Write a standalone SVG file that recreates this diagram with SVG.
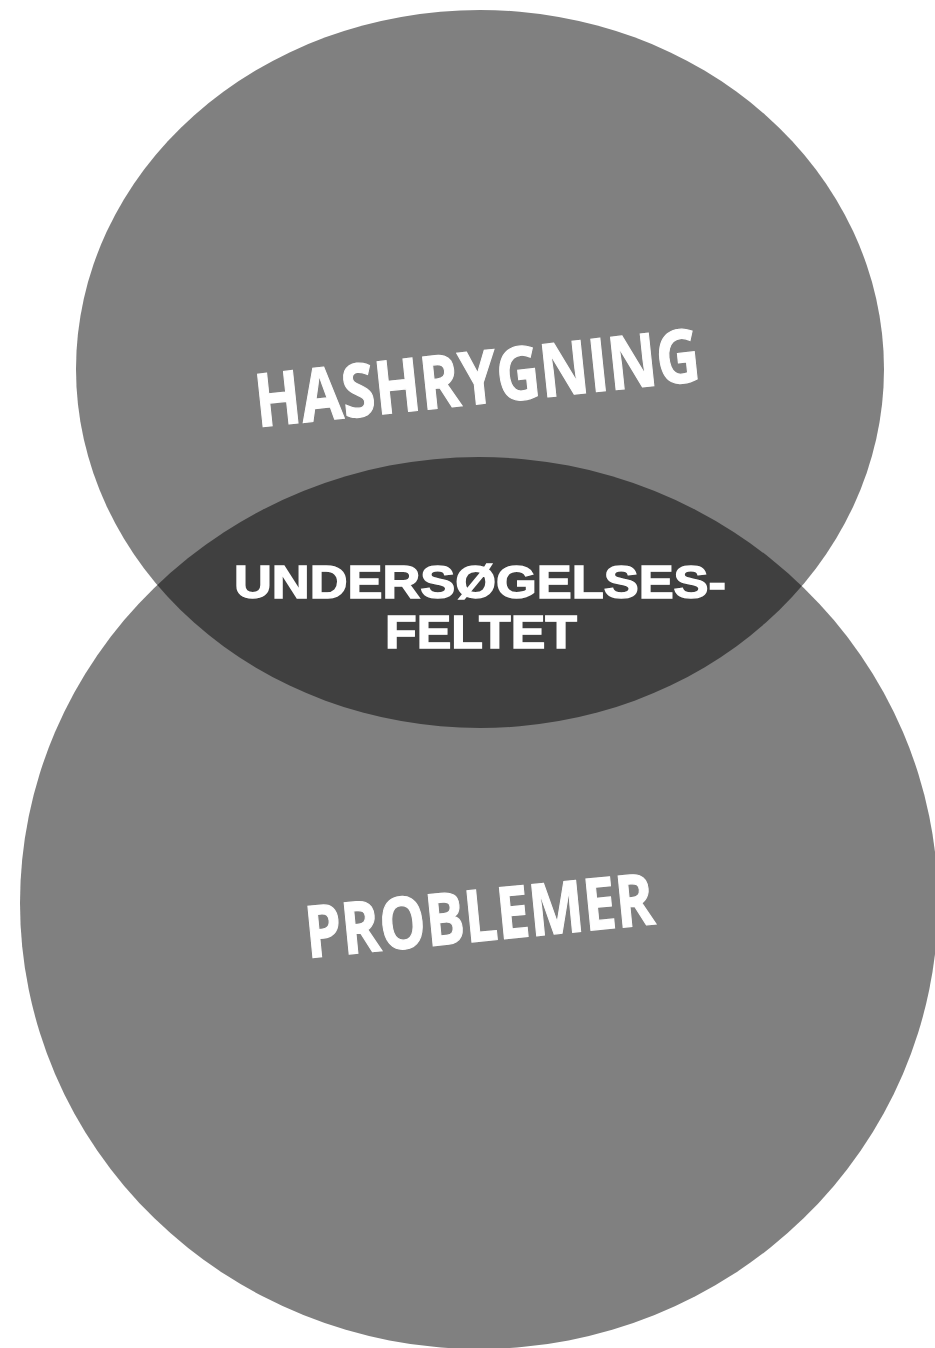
<svg xmlns="http://www.w3.org/2000/svg" width="935" height="1348" viewBox="0 0 935 1348">
  <style>
    .set { fill: #808080; }
    .overlap { fill: #404040; }
    .label { fill: #ffffff; stroke: #ffffff; stroke-width: 1.2; font-family: "Open Sans", "Liberation Sans", sans-serif; font-weight: 700; text-anchor: middle; }
    .core { fill: #ffffff; stroke: #ffffff; stroke-width: 1.4; font-family: "Liberation Sans", Arial, sans-serif; font-weight: 700; text-anchor: middle; font-size: 47px; }
  </style>
  <defs>
    <clipPath id="clipTop">
      <ellipse cx="480" cy="369" rx="404" ry="359"/>
    </clipPath>
  </defs>
  <rect width="935" height="1348" fill="#ffffff"/>

  <g id="set-hashrygning">
    <ellipse class="set" cx="480" cy="369" rx="404" ry="359"/>
  </g>
  <g id="set-problemer">
    <ellipse class="set" cx="479" cy="903" rx="459" ry="446"/>
  </g>
  <g id="overlap">
    <ellipse class="overlap" cx="479" cy="903" rx="459" ry="446" clip-path="url(#clipTop)"/>
  </g>

  <g id="label-hashrygning">
    <text class="label" x="480" y="404" font-size="74" textLength="447" lengthAdjust="spacingAndGlyphs" transform="rotate(-6 480 404)">HASHRYGNING</text>
  </g>
  <g id="label-felt">
    <text class="core" x="480" y="598" textLength="492" lengthAdjust="spacingAndGlyphs">UNDERSØGELSES-</text>
    <text class="core" x="481" y="648" textLength="192" lengthAdjust="spacingAndGlyphs">FELTET</text>
  </g>
  <g id="label-problemer">
    <text class="label" x="482" y="941" font-size="72" textLength="350" lengthAdjust="spacingAndGlyphs" transform="rotate(-5.6 482 941)">PROBLEMER</text>
  </g>
</svg>
